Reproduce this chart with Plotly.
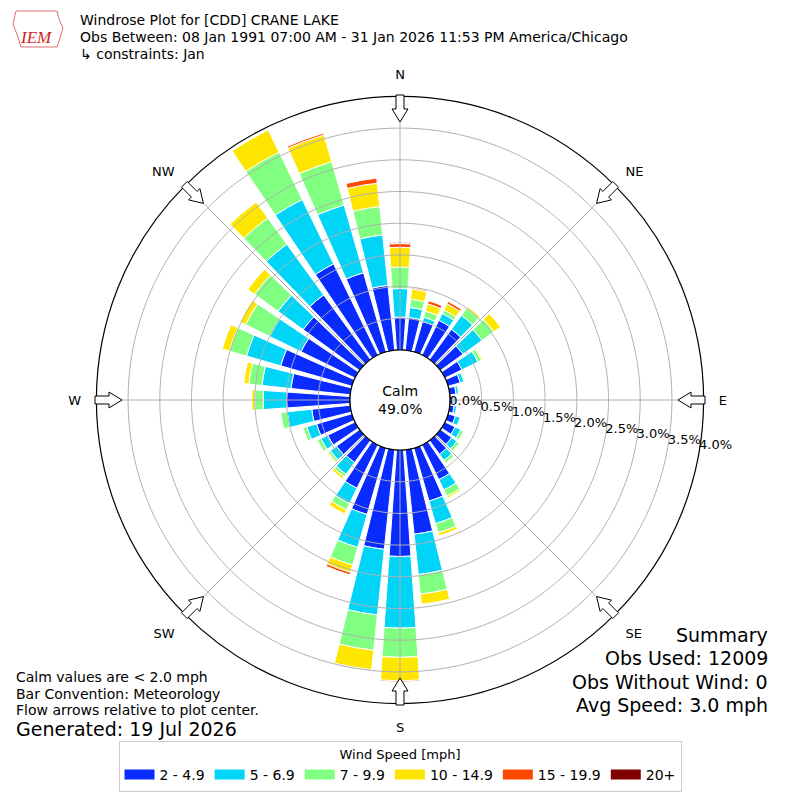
import numpy as np
import plotly.graph_objects as go

# the page body has an 8px margin, so the figure is drawn a little smaller and
# all positions below are given in page pixels and shifted by OFF
OFF = 8
W, H = 800 - 2 * OFF, 800 - 2 * OFF

# wind direction bins (degrees, meteorological convention)
directions = [0, 10, 20, 30, 40, 50, 60, 70, 80, 90, 100, 110,
              120, 130, 140, 150, 160, 170, 180, 190, 200, 210, 220, 230,
              240, 250, 260, 270, 280, 290, 300, 310, 320, 330, 340, 350]

speed_bins = ["2 - 4.9", "5 - 6.9", "7 - 9.9", "10 - 14.9", "15 - 19.9", "20+"]
bin_colors = ["#0a2bff", "#00d4f7", "#80ff80", "#ffe600", "#ff4800", "#800000"]

# frequency [%] per direction for each speed bin
spd_2_5 = [0.52, 0.52, 0.50, 0.61, 0.59, 0.44, 0.30, 0.20, 0.10, 0.05, 0.07, 0.12,
           0.18, 0.22, 0.27, 0.61, 0.87, 1.34, 1.68, 1.58, 1.09, 0.76, 0.43, 0.45,
           0.48, 0.58, 0.61, 1.00, 0.94, 1.17, 0.95, 1.10, 1.26, 1.60, 1.30, 1.03]
spd_5_7 = [0.45, 0.16, 0.07, 0.12, 0.27, 0.37, 0.28, 0.06, 0.04, 0.03, 0.04, 0.08,
           0.10, 0.10, 0.12, 0.18, 0.37, 0.64, 1.13, 1.04, 0.54, 0.27, 0.23, 0.12,
           0.12, 0.16, 0.39, 0.37, 0.46, 0.56, 0.55, 0.49, 0.99, 1.13, 1.11, 0.80]
spd_7_10 = [0.34, 0.13, 0.10, 0.06, 0.14, 0.23, 0.06, 0.02, 0.0, 0.0, 0.0, 0.01,
            0.05, 0.05, 0.05, 0.11, 0.15, 0.31, 0.46, 0.56, 0.29, 0.11, 0.05, 0.04,
            0.06, 0.06, 0.10, 0.13, 0.21, 0.28, 0.42, 0.46, 0.51, 0.83, 0.71, 0.45]
spd_10_15 = [0.31, 0.16, 0.12, 0.11, 0.03, 0.13, 0.02, 0.0, 0.0, 0.0, 0.0, 0.0,
             0.0, 0.01, 0.01, 0.03, 0.05, 0.16, 0.37, 0.31, 0.12, 0.07, 0.04, 0.02,
             0.0, 0.0, 0.0, 0.05, 0.08, 0.12, 0.10, 0.13, 0.31, 0.39, 0.44, 0.37]
spd_15_20 = [0.06, 0.02, 0.05, 0.04, 0.0, 0.0, 0.0, 0.0, 0.0, 0.0, 0.0, 0.0,
             0.0, 0.0, 0.0, 0.0, 0.0, 0.0, 0.02, 0.01, 0.04, 0.0, 0.0, 0.0,
             0.0, 0.0, 0.0, 0.0, 0.0, 0.0, 0.0, 0.0, 0.0, 0.0, 0.03, 0.08]
spd_20_up = [0.02, 0.0, 0.0, 0.0, 0.0, 0.0, 0.0, 0.0, 0.0, 0.0, 0.0, 0.0,
             0.0, 0.0, 0.0, 0.0, 0.0, 0.0, 0.0, 0.0, 0.0, 0.0, 0.0, 0.0,
             0.0, 0.0, 0.0, 0.0, 0.0, 0.0, 0.0, 0.0, 0.0, 0.0, 0.0, 0.0]

radial_ticks = [0.0, 0.5, 1.0, 1.5, 2.0, 2.5, 3.0, 3.5, 4.0]
compass_vals = [0, 45, 90, 135, 180, 225, 270, 315]
compass_text = ["N", "NE", "E", "SE", "S", "SW", "W", "NW"]

calm_pct = 49.0
summary_lines = ["Summary", "Obs Used: 12009", "Obs Without Wind: 0", "Avg Speed: 3.0 mph"]
note_lines = ["Calm values are < 2.0 mph", "Bar Convention: Meteorology",
              "Flow arrows relative to plot center."]
title_lines = ["Windrose Plot for [CDD] CRANE LAKE",
               "Obs Between: 08 Jan 1991 07:00 AM - 31 Jan 2026 11:53 PM America/Chicago",
               "\u21b3 constraints: Jan"]

FONT = "DejaVu Sans"
GRID = "#b0b0b0"
CX, CY, R_OUT, R_HOLE = 400, 400, 303.6, 50


def px(x, y):
    # page pixel -> paper coordinates
    return (x - OFF) / W, 1 - (y - OFF) / H


def label(xp, yp, text, size, anchor="left", **kw):
    x, y = px(xp, yp)
    return dict(x=x, y=y, xref="paper", yref="paper", text=text, xanchor=anchor,
                yanchor="middle", showarrow=False, font=dict(size=size, **kw))


fig = go.Figure()

series = [spd_2_5, spd_5_7, spd_7_10, spd_10_15, spd_15_20, spd_20_up]
for name, col, vals in zip(speed_bins, bin_colors, series):
    fig.add_trace(go.Barpolar(r=vals, theta=directions, width=8, name=name, showlegend=False,
                              marker=dict(color=col, line=dict(color="white", width=1))))

# grid drawn over the bars (like the matplotlib original)
ring = np.arange(0, 361, 1.0)
gr, gt = [], []
for rv in radial_ticks[1:-1]:
    gr += [rv] * len(ring) + [None]
    gt += list(ring) + [None]
for a in compass_vals:
    gr += [radial_ticks[0], radial_ticks[-1], None]
    gt += [a, a, None]
fig.add_trace(go.Scatterpolar(r=gr, theta=gt, mode="lines", line=dict(color=GRID, width=1),
                              showlegend=False, hoverinfo="skip", connectgaps=False))

# black circle at the calm hole edge
fig.add_trace(go.Scatterpolar(r=np.zeros(len(ring)), theta=ring, mode="lines",
                              line=dict(color="black", width=1.2), showlegend=False,
                              hoverinfo="skip", cliponaxis=False))

# radial tick labels
fig.add_trace(go.Scatterpolar(r=radial_ticks, theta=[100] * len(radial_ticks), mode="text",
                              text=["%.1f%%" % v for v in radial_ticks],
                              textposition="top right", textfont=dict(family=FONT, size=13, color="black"),
                              showlegend=False, hoverinfo="skip", cliponaxis=False))

# legend entries as wide colour swatches
for name, col in zip(speed_bins, bin_colors):
    fig.add_trace(go.Scatter(x=[None], y=[None], mode="lines", name=name,
                             line=dict(color=col, width=10)))

dx0, dy0 = px(CX - R_OUT, CY + R_OUT)
dx1, dy1 = px(CX + R_OUT, CY - R_OUT)
fig.update_layout(
    width=W, height=H, margin=dict(l=0, r=0, t=0, b=0),
    paper_bgcolor="white", plot_bgcolor="white",
    font=dict(family=FONT, size=13, color="black"),
    xaxis=dict(visible=False), yaxis=dict(visible=False),
    polar=dict(
        domain=dict(x=[dx0, dx1], y=[dy0, dy1]),
        hole=R_HOLE / R_OUT,
        bgcolor="white",
        barmode="stack",
        radialaxis=dict(range=[0, 4.0], tickvals=radial_ticks[1:-1], showticklabels=False,
                        showline=False, ticks="", showgrid=False),
        angularaxis=dict(direction="clockwise", rotation=90, tickvals=compass_vals,
                         ticktext=compass_text, showgrid=False,
                         linecolor="black", linewidth=1.2, ticks="outside", ticklen=12,
                         tickcolor="rgba(0,0,0,0)", tickfont=dict(family=FONT, size=13),
                         layer="above traces"),
    ),
    legend=dict(orientation="h", x=0.5, xanchor="center", y=px(0, 741)[1], yanchor="top",
                title=dict(text="Wind Speed [mph]", side="top center", font=dict(size=13)),
                font=dict(size=14), bordercolor="#cccccc", borderwidth=1,
                traceorder="normal", itemwidth=30),
    showlegend=True,
)

# flow arrows at the rim, pointing to the plot center
shapes = []
arrow_local = [(305, -4), (291, -4), (291, -8), (278, 0), (291, 8), (291, 4), (305, 4)]
for a in compass_vals:
    t = np.radians(a)
    pts = []
    for d, w in arrow_local:
        x = CX + d * np.sin(t) + w * np.cos(t)
        y = CY - d * np.cos(t) + w * np.sin(t)
        pts.append(px(x, y))
    path = "M " + " L ".join("%.5f %.5f" % p for p in pts) + " Z"
    shapes.append(dict(type="path", xref="paper", yref="paper", path=path,
                       line=dict(color="black", width=1), fillcolor="white"))

# IEM logo outline (rough)
logo = [(16, 11), (57, 11), (59, 19), (63, 28), (60, 38), (57, 47), (21, 47), (18, 37), (13, 24)]
shapes.append(dict(type="path", xref="paper", yref="paper",
                   path="M " + " L ".join("%.5f %.5f" % px(*p) for p in logo) + " Z",
                   line=dict(color="#e07070", width=1)))
fig.update_layout(shapes=shapes)

ann = []
for i, line in enumerate(title_lines):
    ann.append(label(78, 20 + 17 * i, line, 14))
ann.append(label(36, 37, "<i>IEM</i>", 17, anchor="center",
                 family="Liberation Serif", color="#cc1f1f"))
ann.append(label(CX, CY, "Calm<br>%.1f%%" % calm_pct, 14, anchor="center"))
for i, line in enumerate(note_lines):
    ann.append(label(14, 677 + 16.5 * i, line, 14))
ann.append(label(14, 729, "Generated: 19 Jul 2026", 19))
for i, line in enumerate(summary_lines):
    ann.append(label(770, 635 + 23.3 * i, line, 19, anchor="right"))
fig.update_layout(annotations=ann)

fig.write_html("out.html")
